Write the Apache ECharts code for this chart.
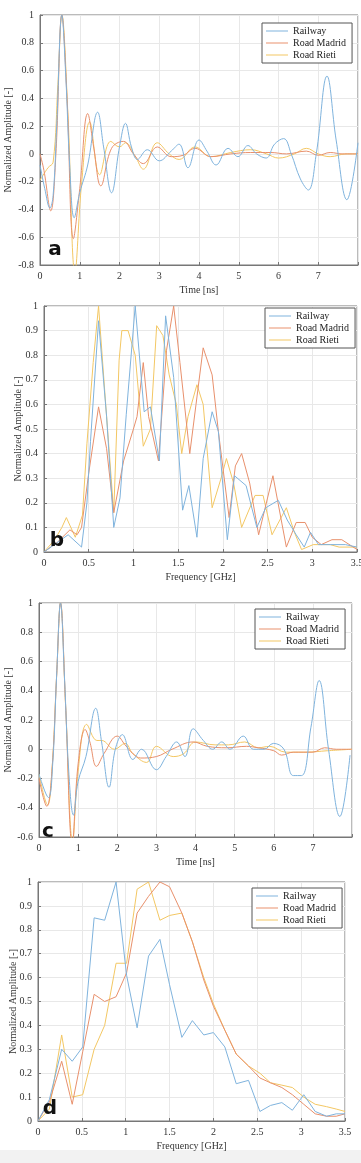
<!DOCTYPE html>
<html>
<head>
<meta charset="utf-8">
<script src="https://cdn.jsdelivr.net/npm/echarts@6/dist/echarts.min.js"></script>
<style>
  html, body { margin: 0; padding: 0; background: #fff; }
  #main { width: 361px; height: 1163px; }
</style>
</head>
<body>
<div id="main"></div>
<script>
// series names + colours (MATLAB defaults, washed out like the scan)
const names = ['Railway', 'Road Madrid', 'Road Rieti']
const colors = ['#7fb3dd', '#e8906c', '#f3c763']

// (a) time domain, [t ns, amplitude]
const railwayA = [[0,-0.08],[0.12,-0.25],[0.25,-0.39],[0.33,-0.3],[0.42,0.2],[0.55,1.0],[0.65,0.55],[0.75,-0.1],[0.86,-0.46],[1.0,-0.28],[1.2,-0.08],[1.45,0.3],[1.6,0.05],[1.8,-0.28],[2.0,0.05],[2.15,0.22],[2.3,0.05],[2.45,-0.04],[2.7,0.03],[3.0,-0.05],[3.3,0.02],[3.5,0.07],[3.72,-0.1],[4.0,0.1],[4.2,0.02],[4.43,-0.08],[4.73,0.04],[4.98,-0.02],[5.23,0.06],[5.45,0.0],[5.69,-0.03],[5.9,0.07],[6.13,0.11],[6.32,0.0],[6.55,-0.18],[6.75,-0.26],[6.95,0.0],[7.22,0.56],[7.45,0.1],[7.72,-0.33],[8.0,0.08]]
const madridA = [[0,0],[0.1,-0.12],[0.27,-0.41],[0.4,0.0],[0.55,1.0],[0.68,0.4],[0.84,-0.61],[1.0,-0.25],[1.2,0.29],[1.35,0.05],[1.53,-0.23],[1.8,0.04],[2.1,0.09],[2.35,0.0],[2.6,-0.07],[2.95,0.05],[3.3,-0.02],[3.6,-0.01],[3.9,0.04],[4.3,-0.02],[4.8,0.0],[5.3,0.01],[5.8,0.01],[6.2,0.0],[6.7,0.02],[7.0,-0.01],[7.3,0.01],[7.6,0.0],[8.0,0.0]]
const rietiA = [[0,-0.19],[0.2,-0.1],[0.33,-0.06],[0.45,0.5],[0.55,1.0],[0.7,0.3],[0.88,-0.85],[1.05,-0.2],[1.25,0.23],[1.5,-0.15],[1.78,0.09],[2.0,0.05],[2.15,0.08],[2.4,-0.02],[2.6,-0.11],[2.95,0.08],[3.25,0.0],[3.5,-0.04],[3.9,0.05],[4.3,-0.02],[4.8,0.01],[5.3,0.03],[5.7,0.0],[6.0,-0.03],[6.4,0.0],[6.7,0.04],[7.0,0.0],[7.3,-0.02],[7.7,0.0],[8.0,0.0]]

// (b) spectrum, [f GHz, amplitude]
const railwayB = [[0,0],[0.27,0.07],[0.42,0.02],[0.48,0.2],[0.52,0.45],[0.61,0.94],[0.7,0.55],[0.78,0.1],[0.85,0.22],[0.92,0.56],[1.02,1.0],[1.12,0.57],[1.19,0.59],[1.29,0.37],[1.36,0.96],[1.45,0.71],[1.55,0.17],[1.62,0.27],[1.71,0.06],[1.78,0.38],[1.88,0.57],[1.95,0.49],[2.05,0.05],[2.13,0.31],[2.26,0.27],[2.38,0.1],[2.48,0.18],[2.62,0.21],[2.72,0.13],[2.82,0.07],[2.91,0.02],[2.98,0.08],[3.07,0.03],[3.2,0.03],[3.37,0.03],[3.5,0.02]]
const madridB = [[0,0],[0.15,0.04],[0.29,0.09],[0.37,0.07],[0.42,0.1],[0.5,0.32],[0.61,0.59],[0.7,0.42],[0.78,0.16],[0.89,0.37],[1.0,0.5],[1.04,0.55],[1.11,0.77],[1.17,0.55],[1.28,0.37],[1.37,0.82],[1.45,1.0],[1.52,0.77],[1.63,0.4],[1.7,0.6],[1.78,0.83],[1.88,0.72],[1.95,0.49],[2.07,0.14],[2.14,0.35],[2.21,0.4],[2.3,0.28],[2.4,0.07],[2.56,0.31],[2.71,0.02],[2.82,0.12],[2.92,0.12],[3.0,0.06],[3.1,0.03],[3.22,0.05],[3.33,0.05],[3.5,0.01]]
const rietiB = [[0,0],[0.12,0.05],[0.2,0.1],[0.25,0.14],[0.35,0.06],[0.43,0.15],[0.48,0.44],[0.55,0.77],[0.61,1.0],[0.68,0.65],[0.78,0.16],[0.84,0.78],[0.87,0.9],[0.94,0.9],[1.02,0.8],[1.11,0.43],[1.19,0.5],[1.26,0.92],[1.33,0.88],[1.4,0.72],[1.48,0.6],[1.54,0.4],[1.61,0.55],[1.71,0.68],[1.78,0.6],[1.88,0.18],[1.98,0.3],[2.04,0.38],[2.12,0.28],[2.21,0.1],[2.36,0.23],[2.45,0.23],[2.55,0.07],[2.71,0.18],[2.8,0.08],[2.88,0.01],[3.01,0.03],[3.2,0.03],[3.3,0.02],[3.5,0.02]]

// (c) time domain
const railwayC = [[0,-0.17],[0.24,-0.33],[0.35,-0.1],[0.45,0.5],[0.55,1.0],[0.65,0.5],[0.76,-0.15],[0.88,-0.45],[1.0,-0.22],[1.2,-0.05],[1.45,0.28],[1.6,0.05],[1.79,-0.26],[1.95,0.0],[2.13,0.1],[2.4,-0.07],[2.62,0.0],[3.0,-0.14],[3.25,-0.05],[3.52,0.05],[3.73,-0.05],[3.94,0.14],[4.2,0.06],[4.44,0.0],[4.67,0.05],[4.88,0.0],[5.22,0.09],[5.48,0.0],[5.75,0.0],[5.99,0.04],[6.26,0.0],[6.5,-0.18],[6.71,-0.18],[6.95,0.15],[7.16,0.47],[7.4,0.0],[7.69,-0.46],[7.95,-0.04]]
const madridC = [[0,-0.2],[0.2,-0.39],[0.33,-0.15],[0.45,0.5],[0.55,1.0],[0.68,0.3],[0.85,-0.65],[1.0,-0.1],[1.18,0.135],[1.3,0.05],[1.47,-0.117],[1.66,-0.03],[2.0,0.09],[2.2,0.03],[2.4,-0.03],[2.6,-0.06],[3.0,-0.05],[3.4,0.0],[3.94,0.05],[4.3,0.02],[4.8,0.01],[5.3,0.02],[5.6,0.01],[6.0,-0.01],[6.2,-0.04],[6.5,-0.02],[7.0,-0.02],[7.3,0.01],[7.6,0.0],[8.0,0.0]]
const rietiC = [[0,-0.17],[0.22,-0.38],[0.33,-0.15],[0.45,0.5],[0.55,1.0],[0.68,0.3],[0.86,-0.63],[1.0,-0.15],[1.22,0.17],[1.48,0.06],[1.6,0.06],[1.93,0.0],[2.2,0.04],[2.4,-0.03],[2.75,-0.09],[3.0,0.02],[3.43,-0.05],[3.7,-0.03],[4.0,0.05],[4.5,0.03],[4.84,0.03],[5.26,0.05],[5.6,0.01],[5.9,0.02],[6.3,-0.02],[6.8,-0.02],[7.38,-0.01],[8.0,0.0]]

// (d) spectrum
const railwayD = [[0,0],[0.13,0.09],[0.27,0.3],[0.39,0.25],[0.51,0.31],[0.64,0.85],[0.76,0.84],[0.89,1.0],[1.01,0.61],[1.13,0.39],[1.26,0.69],[1.39,0.76],[1.5,0.57],[1.64,0.35],[1.76,0.42],[1.89,0.36],[2.0,0.37],[2.13,0.31],[2.26,0.156],[2.4,0.17],[2.53,0.04],[2.65,0.065],[2.78,0.077],[2.9,0.045],[3.03,0.11],[3.16,0.04],[3.29,0.02],[3.4,0.03],[3.5,0.03]]
const madridD = [[0,0],[0.13,0.08],[0.27,0.25],[0.39,0.07],[0.51,0.29],[0.64,0.53],[0.76,0.5],[0.89,0.52],[1.01,0.62],[1.13,0.87],[1.26,0.94],[1.39,1.0],[1.5,0.98],[1.64,0.87],[1.76,0.75],[1.89,0.59],[2.0,0.48],[2.13,0.38],[2.26,0.28],[2.4,0.23],[2.53,0.18],[2.65,0.16],[2.78,0.14],[2.9,0.11],[3.03,0.07],[3.16,0.03],[3.29,0.02],[3.4,0.02],[3.5,0.03]]
const rietiD = [[0,0],[0.13,0.05],[0.27,0.36],[0.39,0.1],[0.51,0.11],[0.64,0.3],[0.76,0.4],[0.89,0.66],[1.01,0.66],[1.13,0.97],[1.26,1.0],[1.39,0.84],[1.5,0.86],[1.64,0.87],[1.76,0.75],[1.89,0.6],[2.0,0.49],[2.13,0.38],[2.26,0.28],[2.4,0.23],[2.53,0.2],[2.65,0.16],[2.78,0.15],[2.9,0.14],[3.03,0.1],[3.16,0.07],[3.29,0.06],[3.4,0.05],[3.5,0.04]]

const serif = '"Liberation Serif", "DejaVu Serif", serif'
const labelStyle = { fontFamily: serif, fontSize: 10, color: '#333' }

// grids in px, one per panel
const grids = [
  { left: 40, top: 15, width: 318, height: 250 },
  { left: 44, top: 306, width: 313, height: 246 },
  { left: 39, top: 603, width: 313, height: 234 },
  { left: 38, top: 882, width: 307, height: 239 }
].map(g => Object.assign(g, { show: true, borderColor: '#777', borderWidth: 1, backgroundColor: '#fff', outerBoundsMode: 'none' }))

function xAx (idx, max, interval, name, hideLast) {
  return {
    type: 'value', gridIndex: idx, min: 0, max: max, interval: interval,
    name: name, nameLocation: 'middle', nameGap: 20, nameMoveOverlap: false,
    nameTextStyle: labelStyle,
    axisLine: { onZero: false, lineStyle: { color: '#777' } },
    axisTick: { inside: true, length: 3, lineStyle: { color: '#777' } },
    axisLabel: Object.assign({ margin: 6, formatter: v => (hideLast && v === max) ? '' : String(v) }, labelStyle),
    splitLine: { show: true, lineStyle: { color: '#e8e8e8' } }
  }
}
function yAx (idx, min, max, interval, gap) {
  return {
    type: 'value', gridIndex: idx, min: min, max: max, interval: interval,
    name: 'Normalized Amplitude [-]', nameLocation: 'middle', nameGap: gap, nameMoveOverlap: false,
    nameTextStyle: labelStyle,
    axisLine: { show: true, onZero: false, lineStyle: { color: '#777' } },
    axisTick: { show: true, inside: true, length: 3, lineStyle: { color: '#777' } },
    axisLabel: Object.assign({ margin: 6, formatter: v => String(Math.round(v * 10) / 10) }, labelStyle),
    splitLine: { show: true, lineStyle: { color: '#e8e8e8' } }
  }
}

const xAxes = [
  xAx(0, 8, 1, 'Time [ns]', true),
  xAx(1, 3.5, 0.5, 'Frequency [GHz]', false),
  xAx(2, 8, 1, 'Time [ns]', true),
  xAx(3, 3.5, 0.5, 'Frequency [GHz]', false)
]
const yAxes = [
  yAx(0, -0.8, 1, 0.2, 27),
  yAx(1, 0, 1, 0.1, 21),
  yAx(2, -0.6, 1, 0.2, 26),
  yAx(3, 0, 1, 0.1, 20)
]

const panelData = [
  [railwayA, madridA, rietiA],
  [railwayB, madridB, rietiB],
  [railwayC, madridC, rietiC],
  [railwayD, madridD, rietiD]
]
const series = []
panelData.forEach((sets, p) => {
  sets.forEach((d, i) => {
    series.push({
      name: names[i], type: 'line', xAxisIndex: p, yAxisIndex: p,
      data: d, symbol: 'none', smooth: (p === 0 || p === 2) ? 0.4 : false,
      lineStyle: { color: colors[i], width: 1 }, itemStyle: { color: colors[i] },
      z: 3 - i
    })
  })
})

// legend boxes (left, top)
const legendPos = [[262, 23], [265, 308], [255, 609], [252, 888]]
const legends = legendPos.map(p => ({
  data: names, left: p[0], top: p[1], orient: 'vertical',
  icon: 'rect', itemWidth: 22, itemHeight: 1, itemGap: 2, padding: [3, 6, 3, 4],
  borderColor: '#555', borderWidth: 1, backgroundColor: '#fff',
  textStyle: { fontFamily: serif, fontSize: 10, lineHeight: 10, color: '#222' },
  selectedMode: false
}))

// panel letters
const letters = [['a', 55, 250], ['b', 57, 541], ['c', 48, 832], ['d', 50, 1109]]

const chart = echarts.init(document.getElementById('main'))
chart.setOption({
  backgroundColor: '#fff',
  animation: false,
  grid: grids,
  xAxis: xAxes,
  yAxis: yAxes,
  legend: legends,
  series: series,
  graphic: letters.map(l => ({
    type: 'text', x: l[1], y: l[2], z: 100,
    style: { text: l[0], fontFamily: '"DejaVu Sans", sans-serif', fontWeight: 'bold', fontSize: 20, fill: '#111', align: 'center', verticalAlign: 'middle' }
  })).concat([{ type: 'rect', shape: { x: 0, y: 1150, width: 361, height: 13 }, style: { fill: '#f2f2f2' } }])
})
</script>
</body>
</html>
